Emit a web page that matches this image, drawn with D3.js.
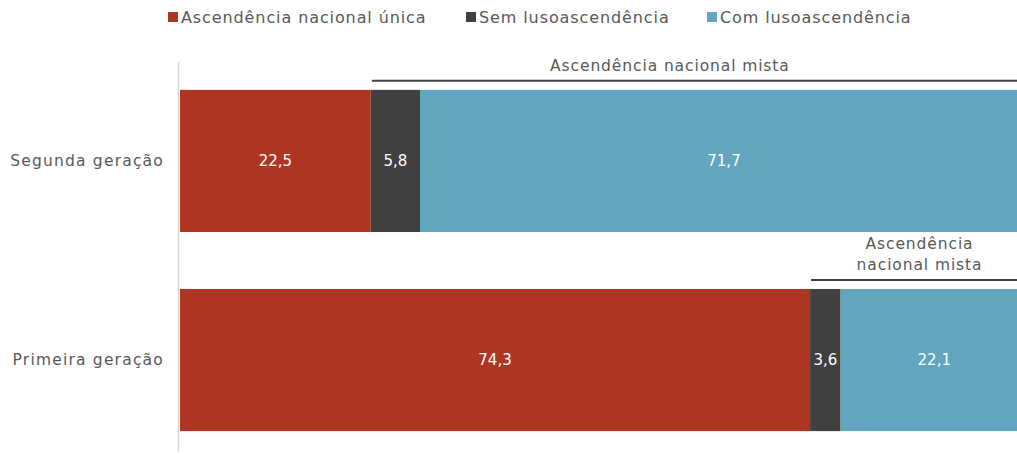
<!doctype html>
<html lang="pt">
<head>
  <meta charset="utf-8">
  <script src="https://d3js.org/d3.v7.min.js"></script>
  <style>
    body { margin: 0; background: #fff; }
    text { font-family: "DejaVu Sans", "Noto Sans", sans-serif; }
    .lbl { letter-spacing: 0.9px; }
  </style>
</head>
<body>
  <script>
    // data
    var categories = ["Segunda geração", "Primeira geração"];
    var seriesNames = ["Ascendência nacional única", "Sem lusoascendência", "Com lusoascendência"];
    var unica = [22.5, 74.3];
    var semLuso = [5.8, 3.6];
    var comLuso = [71.7, 22.1];
    var colors = ["#ad3623", "#404040", "#62a5bf"];

    var width = 1017, height = 454;

    var svg = d3.select("body").append("svg")
        .attr("width", width)
        .attr("height", height);

    // the 100% bar runs a bit past the right edge, as in the original
    var x = d3.scaleLinear().domain([0, 100]).range([180, 1028]);
    var y = d3.scaleBand().domain(categories).range([62, 459])
        .paddingInner(0.286).paddingOuter(0.14);

    var rows = categories.map(function(c, i) {
      return { cat: c, vals: [unica[i], semLuso[i], comLuso[i]] };
    });

    // bars
    rows.forEach(function(r) {
      var start = 0;
      r.vals.forEach(function(v, j) {
        svg.append("rect")
            .attr("x", x(start))
            .attr("y", y(r.cat))
            .attr("width", x(start + v) - x(start))
            .attr("height", y.bandwidth())
            .attr("fill", colors[j]);
        svg.append("text")
            .attr("x", (x(start) + x(start + v)) / 2)
            .attr("y", y(r.cat) + y.bandwidth() / 2)
            .attr("dy", "0.35em")
            .attr("text-anchor", "middle")
            .attr("fill", "#fff")
            .style("font-size", "15px")
            .text(d3.format(".1f")(v).replace(".", ","));
        start += v;
      });
    });

    // category labels
    svg.selectAll(".cat")
        .data(categories)
      .enter().append("text")
        .attr("class", "lbl")
        .attr("x", 164)
        .attr("y", function(d) { return y(d) + y.bandwidth() / 2; })
        .attr("dy", "0.35em")
        .attr("text-anchor", "end")
        .attr("fill", "#595959")
        .style("font-size", "15.5px")
        .style("letter-spacing", "1.2px")
        .text(function(d) { return d; });

    // axis line
    svg.append("line")
        .attr("x1", 178.5).attr("x2", 178.5)
        .attr("y1", 62).attr("y2", 452)
        .attr("stroke", "#d9d9d9").attr("stroke-width", 1.5);

    // "mista" brackets
    var labelShift = [-30, 0];
    rows.forEach(function(r, i) {
      var x0 = x(r.vals[0]) + 1, x1 = x(100);
      var ly = y(r.cat) - 9;
      var cx = (x0 + x1) / 2 + labelShift[i];
      svg.append("line")
          .attr("x1", x0).attr("x2", width)
          .attr("y1", ly).attr("y2", ly)
          .attr("stroke", "#404040").attr("stroke-width", 2);
      var lines = i === 0 ? ["Ascendência nacional mista"] : ["Ascendência", "nacional mista"];
      lines.forEach(function(l, k) {
        svg.append("text")
            .attr("class", "lbl")
            .attr("x", cx)
            .attr("y", ly - 10 - (lines.length - 1 - k) * 21)
            .attr("text-anchor", "middle")
            .attr("fill", "#595959")
            .style("font-size", "15.5px")
            .text(l);
      });
    });

    // legend
    var legX = [168, 466, 707];
    seriesNames.forEach(function(s, i) {
      svg.append("rect")
          .attr("x", legX[i]).attr("y", 12)
          .attr("width", 10).attr("height", 10)
          .attr("fill", colors[i]);
      svg.append("text")
          .attr("class", "lbl")
          .attr("x", legX[i] + 13).attr("y", 17)
          .attr("dy", "0.35em")
          .attr("fill", "#595959")
          .style("font-size", "16px")
          .text(s);
    });
  </script>
</body>
</html>
